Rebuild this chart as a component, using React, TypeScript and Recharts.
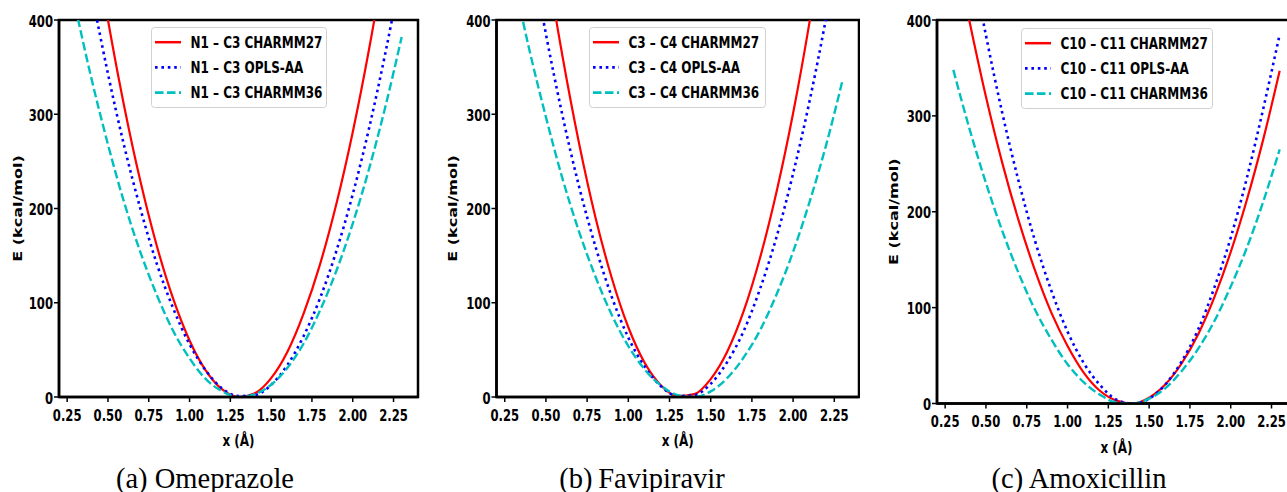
import React from 'react';
import { LineChart, Line, XAxis, YAxis, Legend, ReferenceArea } from 'recharts';

// bond length grid (Å)
const bondLength = [0.3, 0.4, 0.5, 0.6, 0.7, 0.8, 0.9, 1.0, 1.1, 1.2, 1.3, 1.4, 1.5, 1.6, 1.7, 1.8, 1.9, 2.0, 2.1, 2.2, 2.3];
const xTicks = [0.25, 0.5, 0.75, 1.0, 1.25, 1.5, 1.75, 2.0, 2.25];
const yTicks = [0, 100, 200, 300, 400];

// (a) Omeprazole, N1 – C3
const omeprazoleC27 = [619, 503, 400, 308, 228, 160, 104, 60, 28, 8, 0, 4, 20, 48, 89, 141, 205, 281, 369, 469, 581];
const omeprazoleOpls = [527, 430, 343, 266, 199, 141, 94, 56, 28, 9, 1, 2, 13, 34, 65, 105, 155, 215, 285, 365, 454];
const omeprazoleC36 = [414, 337, 268, 206, 153, 108, 70, 41, 19, 6, 0, 3, 13, 31, 57, 92, 134, 184, 242, 308, 382];

// (b) Favipiravir, C3 – C4
const favipiravirC27 = [719, 586, 467, 362, 270, 191, 126, 74, 36, 12, 1, 3, 19, 48, 91, 148, 218, 301, 398, 509, 632];
const favipiravirOpls = [591, 483, 385, 299, 224, 160, 106, 63, 32, 11, 1, 2, 14, 37, 70, 115, 170, 237, 314, 402, 501];
const favipiravirC36 = [448, 368, 297, 232, 176, 128, 87, 54, 29, 12, 2, 0, 6, 20, 42, 71, 109, 154, 207, 267, 336];

// (c) Amoxicillin, C10 – C11
const amoxicillinC27 = [482, 398, 320, 251, 191, 139, 95, 60, 32, 13, 3, 0, 6, 20, 42, 72, 111, 158, 213, 276, 347];
const amoxicillinOpls = [574, 474, 384, 303, 232, 170, 118, 75, 42, 19, 4, 0, 5, 20, 44, 77, 121, 173, 236, 308, 385];
const amoxicillinC36 = [348, 286, 230, 180, 136, 98, 67, 41, 22, 9, 1, 0, 5, 16, 34, 57, 86, 122, 163, 211, 265];

const captions = ['(a) Omeprazole', '(b)\u2009Favipiravir', '(c) Amoxicillin'];
const bonds = ['N1 – C3', 'C3 – C4', 'C10 – C11'];

const FONT = '"DejaVu Sans", sans-serif';
const Y_AXIS_W = 45;
const X_AXIS_H = 40;
const ORDER = ['c27', 'opls', 'c36'];

const SERIES: Record<string, { label: string; color: string; width: number; dash?: string }> = {
  c27: { label: 'CHARMM27', color: '#ff0000', width: 2.2 },
  opls: { label: 'OPLS-AA', color: '#0000ff', width: 2.6, dash: '2.6 3.8' },
  c36: { label: 'CHARMM36', color: '#00bfbf', width: 2.4, dash: '8.5 3.5' },
};

const layouts = [
  { left: 0, width: 430, margin: { top: 20, right: 12, left: 14, bottom: 55 }, legend: { x: 151, y: 27, w: 176 }, captionX: 205, yLab: 37.5, xLab: 49 },
  { left: 430, width: 430, margin: { top: 20, right: 1, left: 21.5, bottom: 55 }, legend: { x: 159, y: 27, w: 177 }, captionX: 212, yLab: 39.5, xLab: 49 },
  { left: 860, width: 437, margin: { top: 20, right: 1, left: 32, bottom: 48.5 }, legend: { x: 161, y: 28, w: 192 }, captionX: 219, yLab: 39, xLab: 49.5 },
];

const panelData = [
  [omeprazoleC27, omeprazoleOpls, omeprazoleC36],
  [favipiravirC27, favipiravirOpls, favipiravirC36],
  [amoxicillinC27, amoxicillinOpls, amoxicillinC36],
];

const XTick = (props: any) => {
  const { x, y, payload } = props;
  return (
    <text transform={`translate(${x},${y + 15.5}) scale(0.75,1)`} textAnchor="middle" fontFamily={FONT} fontWeight="bold" fontSize={15.5} fill="#000">
      {Number(payload.value).toFixed(2)}
    </text>
  );
};

const YTick = (props: any) => {
  const { x, y, payload } = props;
  return (
    <text transform={`translate(${x},${y + 6.5}) scale(0.75,1)`} textAnchor="end" fontFamily={FONT} fontWeight="bold" fontSize={15.5} fill="#000">
      {payload.value}
    </text>
  );
};

const makeLegend = (w: number) => (props: any) => {
  const payload = [...(props.payload || [])].sort(
    (a: any, b: any) => ORDER.indexOf(a.dataKey) - ORDER.indexOf(b.dataKey)
  );
  return (
    <svg width={w} height={81} style={{ display: 'block' }}>
      <rect x={0.5} y={0.5} width={w - 1} height={80} rx={3} fill="#fff" fillOpacity={0.8} stroke="#d0d0d0" />
      {payload.map((entry: any, i: number) => {
        const st = SERIES[entry.dataKey];
        const cy = 15.2 + i * 25.2;
        return (
          <g key={entry.dataKey}>
            <line x1={4} x2={30} y1={cy} y2={cy} stroke={st.color} strokeWidth={st.width + 0.3} strokeDasharray={st.dash} />
            <text transform={`translate(39.5,${cy + 5.8}) scale(0.75,1)`} fontFamily={FONT} fontWeight="bold" fontSize={16} fill="#000">
              {entry.value}
            </text>
          </g>
        );
      })}
    </svg>
  );
};

const Panel = ({ idx }: { idx: number }) => {
  const L = layouts[idx];
  const [c27, opls, c36] = panelData[idx];
  const rows = bondLength.map((x, i) => ({ x, c27: c27[i], opls: opls[i], c36: c36[i] }));
  const height = 492;
  const plotLeft = L.margin.left + Y_AXIS_W;
  const plotRight = L.width - L.margin.right;
  const plotTop = L.margin.top;
  const plotBottom = height - L.margin.bottom - X_AXIS_H;
  const plotCx = (plotLeft + plotRight) / 2;
  const plotCy = (plotTop + plotBottom) / 2;

  return (
    <div style={{ position: 'absolute', left: L.left, top: 0 }}>
      <LineChart width={L.width} height={height} data={rows} margin={L.margin}>
        <ReferenceArea x1={0.2} x2={2.4} y1={0} y2={400} fill="none" stroke="#000" strokeWidth={2.5} />
        <XAxis
          dataKey="x"
          type="number"
          domain={[0.2, 2.4]}
          ticks={xTicks}
          interval={0}
          allowDataOverflow
          height={X_AXIS_H}
          tick={<XTick />}
          tickSize={5}
          tickMargin={3}
          tickLine={{ stroke: '#000', strokeWidth: 1.5 }}
          axisLine={{ stroke: '#000', strokeWidth: 2.5 }}
          label={{
            content: () => (
              <g>
                <text transform={`translate(${plotCx},${plotBottom + L.xLab}) scale(0.75,1)`} textAnchor="middle" fontFamily={FONT} fontWeight="bold" fontSize={16} fill="#000">
                  x (Å)
                </text>
                <text x={L.captionX} y={487.5} textAnchor="middle" fontFamily='"Liberation Serif", "Times New Roman", serif' fontSize={28.5} fill="#000">
                  {captions[idx]}
                </text>
              </g>
            ),
          }}
        />
        <YAxis
          type="number"
          domain={[0, 400]}
          ticks={yTicks}
          interval={0}
          allowDataOverflow
          width={Y_AXIS_W}
          tick={<YTick />}
          tickSize={5}
          tickMargin={1}
          tickLine={{ stroke: '#000', strokeWidth: 1.5 }}
          axisLine={{ stroke: '#000', strokeWidth: 2.5 }}
          label={{
            content: () => (
              <text transform={`translate(${plotLeft - L.yLab},${plotCy}) rotate(-90) scale(1,0.75)`} textAnchor="middle" fontFamily={FONT} fontWeight="bold" fontSize={16} fill="#000">
                E (kcal/mol)
              </text>
            ),
          }}
        />
        <Legend
          layout="horizontal"
          verticalAlign="middle"
          align="center"
          wrapperStyle={{ left: L.legend.x, top: L.legend.y, width: L.legend.w, height: 81 }}
          content={makeLegend(L.legend.w)}
        />
        {ORDER.map((key) => (
          <Line
            key={key}
            dataKey={key}
            name={`${bonds[idx]} ${SERIES[key].label}`}
            type="monotone"
            stroke={SERIES[key].color}
            strokeWidth={SERIES[key].width}
            strokeDasharray={SERIES[key].dash}
            dot={false}
            activeDot={false}
            isAnimationActive={false}
          />
        ))}
      </LineChart>
    </div>
  );
};

export default function App() {
  return (
    <div style={{ position: 'absolute', left: 0, top: 0, width: 1287, height: 492, overflow: 'hidden', background: '#fff' }}>
      {[0, 1, 2].map((i) => (
        <Panel key={i} idx={i} />
      ))}
    </div>
  );
}
